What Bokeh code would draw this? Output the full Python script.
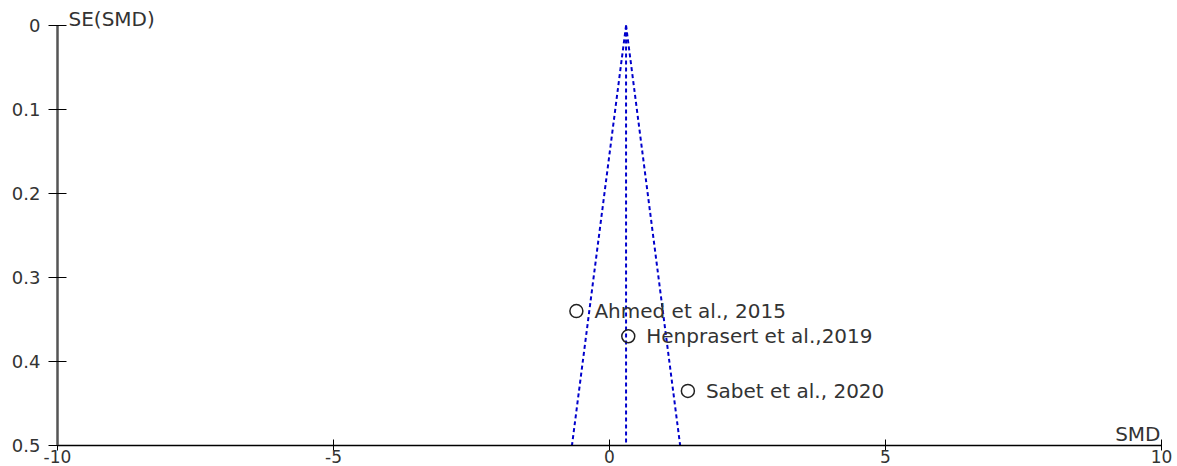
from bokeh.plotting import figure
from bokeh.models import Range1d, FixedTicker, Label, LabelSet, ColumnDataSource
from bokeh.core.properties import value
from bokeh.embed import file_html
from bokeh.resources import INLINE

# ---- data ----
studies = ["Ahmed et al., 2015", "Henprasert et al.,2019", "Sabet et al., 2020"]
smd = [-0.60, 0.34, 1.42]
se = [0.340, 0.370, 0.435]
pooled_smd = 0.30
se_range = [0.0, 0.5]
x_ticks = [-10, -5, 0, 5, 10]
x_tick_labels = ["-10", "-5", "0", "5", "10"]
y_ticks = [0, 0.1, 0.2, 0.3, 0.4, 0.5]
y_tick_labels = ["0", "0.1", "0.2", "0.3", "0.4", "0.5"]

FONT = "DejaVu Sans"
TXT = "#333333"
BLUE = "#0000cc"

p = figure(frame_width=1104, frame_height=445,
           x_range=Range1d(-10, 10), y_range=Range1d(0.5, -0.0298),
           output_backend="svg", toolbar_location=None,
           min_border_left=57, min_border_right=16, min_border_top=0, min_border_bottom=0)
p.outline_line_color = None
p.xgrid.visible = False
p.ygrid.visible = False
p.background_fill_color = "white"
p.border_fill_color = "white"

# x axis
xa = p.xaxis[0]
xa.ticker = FixedTicker(ticks=x_ticks)
xa.major_label_overrides = {t: l for t, l in zip(x_ticks, x_tick_labels)}
xa.axis_line_color = "black"
xa.axis_line_width = 1.5
xa.major_tick_in = 6
xa.major_tick_out = 5
xa.major_tick_line_color = "black"
xa.minor_tick_line_color = None
xa.major_label_standoff = -1
xa.major_label_text_font = FONT
xa.major_label_text_font_size = "17px"
xa.major_label_text_color = TXT

# y axis
ya = p.yaxis[0]
ya.ticker = FixedTicker(ticks=y_ticks)
ya.bounds = (0, 0.5)
ya.major_label_overrides = {t: l for t, l in zip(y_ticks, y_tick_labels)}
ya.axis_line_color = "#555555"
ya.axis_line_width = 2.5
ya.major_tick_in = 9
ya.major_tick_out = 9
ya.major_tick_line_color = "black"
ya.minor_tick_line_color = None
ya.major_label_standoff = 8
ya.major_label_text_font = FONT
ya.major_label_text_font_size = "18px"
ya.major_label_text_color = TXT

# funnel
lo = [pooled_smd - 1.96 * s for s in se_range]
hi = [pooled_smd + 1.96 * s for s in se_range]
p.line(lo, se_range, line_color=BLUE, line_width=2, line_dash="4 3")
p.line(hi, se_range, line_color=BLUE, line_width=2, line_dash="4 3")
p.line([pooled_smd, pooled_smd], se_range, line_color=BLUE, line_width=2, line_dash="4 3")

# studies
src = ColumnDataSource(dict(x=smd, y=se, name=studies))
p.scatter("x", "y", source=src, marker="circle", size=13, fill_color=None,
          line_color="#222222", line_width=1.5)
p.add_layout(LabelSet(x="x", y="y", text="name", source=src, x_offset=18,
                      text_baseline="middle", text_font=value(FONT),
                      text_font_size=value("20px"), text_color=TXT))

# axis titles
p.add_layout(Label(x=-10, y=0, text="SE(SMD)", x_offset=11, y_offset=7,
                   text_baseline="middle", text_font=FONT, text_font_size="20px",
                   text_color=TXT))
p.add_layout(Label(x=10, y=0.5, text="SMD", x_offset=-1, y_offset=12,
                   text_align="right", text_baseline="middle", text_font=FONT,
                   text_font_size="20px", text_color=TXT))

open("out.html", "w").write(file_html(p, INLINE))
